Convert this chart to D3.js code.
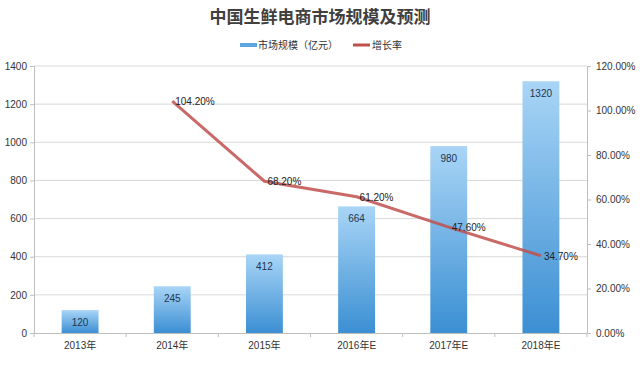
<!DOCTYPE html>
<html>
<head>
<meta charset="utf-8">
<script src="https://cdn.jsdelivr.net/npm/d3@7"></script>
<style>
  body { margin: 0; background: #fff; }
  text { font-family: "Liberation Sans", "Noto Sans CJK SC", sans-serif; }
</style>
</head>
<body>
<svg id="chart" width="640" height="383"></svg>
<script>
// chart data
var years = ["2013年", "2014年", "2015年", "2016年E", "2017年E", "2018年E"]
var marketSize = [120, 245, 412, 664, 980, 1320]
var growthRate = [null, 104.2, 68.2, 61.2, 47.6, 34.7]
var leftTicks = [0, 200, 400, 600, 800, 1000, 1200, 1400]
var rightTicks = [0, 20, 40, 60, 80, 100, 120]

var svg = d3.select("#chart")
var margin = {top: 66, right: 53, bottom: 50, left: 34}
var width = 640 - margin.left - margin.right
var height = 383 - margin.top - margin.bottom

// gradient for the bars
var defs = svg.append("defs")
var grad = defs.append("linearGradient").attr("id", "barGrad")
  .attr("x1", 0).attr("y1", 0).attr("x2", 0).attr("y2", 1)
grad.append("stop").attr("offset", "0%").attr("stop-color", "#a9d5f6")
grad.append("stop").attr("offset", "100%").attr("stop-color", "#3b8fd3")

// title
svg.append("text")
  .attr("x", 320).attr("y", 23)
  .attr("text-anchor", "middle")
  .attr("font-size", 17).attr("font-weight", "bold")
  .attr("fill", "#404040")
  .text("中国生鲜电商市场规模及预测")

// legend
var legend = svg.append("g").attr("transform", "translate(240,45)")
legend.append("rect").attr("x", 0).attr("y", -2).attr("width", 17).attr("height", 4).attr("fill", "#5ea6df")
legend.append("text").attr("x", 18).attr("y", 4).attr("font-size", 10).attr("fill", "#333")
  .style("font-family", "'Noto Sans CJK SC', sans-serif").text("市场规模（亿元）")
legend.append("rect").attr("x", 113).attr("y", -1.5).attr("width", 17).attr("height", 3).attr("fill", "#c0504d")
legend.append("text").attr("x", 132).attr("y", 4).attr("font-size", 10).attr("fill", "#333")
  .style("font-family", "'Noto Sans CJK SC', sans-serif").text("增长率")

var canvas = svg.append("g").attr("transform", "translate(" + margin.left + "," + margin.top + ")")

var x = d3.scaleBand().domain(years).range([0, width]).paddingInner(0.6).paddingOuter(0.3)
var xBound = d3.scaleBand().domain(years).range([0, width])
var yLeft = d3.scaleLinear().domain([0, 1400]).range([height, 0])
var yRight = d3.scaleLinear().domain([0, 120]).range([height, 0])

// grid lines
canvas.append("g").selectAll("line").data(leftTicks.slice(1)).enter().append("line")
  .attr("x1", 0).attr("x2", width)
  .attr("y1", d => yLeft(d)).attr("y2", d => yLeft(d))
  .attr("stroke", "#d9d9d9").attr("stroke-width", 1)

// axes
var leftAxis = canvas.append("g")
  .call(d3.axisLeft(yLeft).tickValues(leftTicks).tickSize(4).tickPadding(3).tickFormat(d3.format("d")))
var rightAxis = canvas.append("g").attr("transform", "translate(" + width + ",0)")
  .call(d3.axisRight(yRight).tickValues(rightTicks).tickSize(4).tickPadding(5)
    .tickFormat(d => d.toFixed(2) + "%"))
var bottomAxis = canvas.append("g").attr("transform", "translate(0," + height + ")")
  .call(d3.axisBottom(xBound).tickSize(0).tickPadding(9))

// band boundary ticks on x axis
canvas.append("g").selectAll("line").data(d3.range(years.length + 1)).enter().append("line")
  .attr("x1", d => d * xBound.step()).attr("x2", d => d * xBound.step())
  .attr("y1", height).attr("y2", height + 4)
  .attr("stroke", "#bfbfbf")

;[leftAxis, rightAxis, bottomAxis].forEach(function(a) {
  a.selectAll("path").attr("stroke", "#bfbfbf")
  a.selectAll("line").attr("stroke", "#bfbfbf")
  a.selectAll("text").attr("font-size", 10).attr("fill", "#333")
})

// bars
canvas.append("g").selectAll("rect").data(marketSize).enter().append("rect")
  .attr("x", (d, i) => x(years[i]))
  .attr("y", d => yLeft(d))
  .attr("width", x.bandwidth())
  .attr("height", d => height - yLeft(d))
  .attr("fill", "url(#barGrad)")

canvas.append("g").selectAll("text").data(marketSize).enter().append("text")
  .attr("x", (d, i) => x(years[i]) + x.bandwidth() / 2)
  .attr("y", d => yLeft(d) + 16)
  .attr("text-anchor", "middle")
  .attr("font-size", 10).attr("fill", "#1f3550")
  .text(d => d)

// growth line
var pts = growthRate.map((d, i) => ({year: years[i], v: d})).filter(d => d.v != null)
var line = d3.line()
  .x(d => xBound(d.year) + xBound.bandwidth() / 2)
  .y(d => yRight(d.v))
canvas.append("path").datum(pts)
  .attr("d", line)
  .attr("fill", "none")
  .attr("stroke", "#c0504d")
  .attr("stroke-width", 3)
  .attr("stroke-opacity", 0.85)

canvas.append("g").selectAll("text").data(pts).enter().append("text")
  .attr("x", d => xBound(d.year) + xBound.bandwidth() / 2 + 3)
  .attr("y", d => yRight(d.v) + 4)
  .attr("font-size", 10).attr("fill", "#222")
  .text(d => d.v.toFixed(2) + "%")
</script>
</body>
</html>
